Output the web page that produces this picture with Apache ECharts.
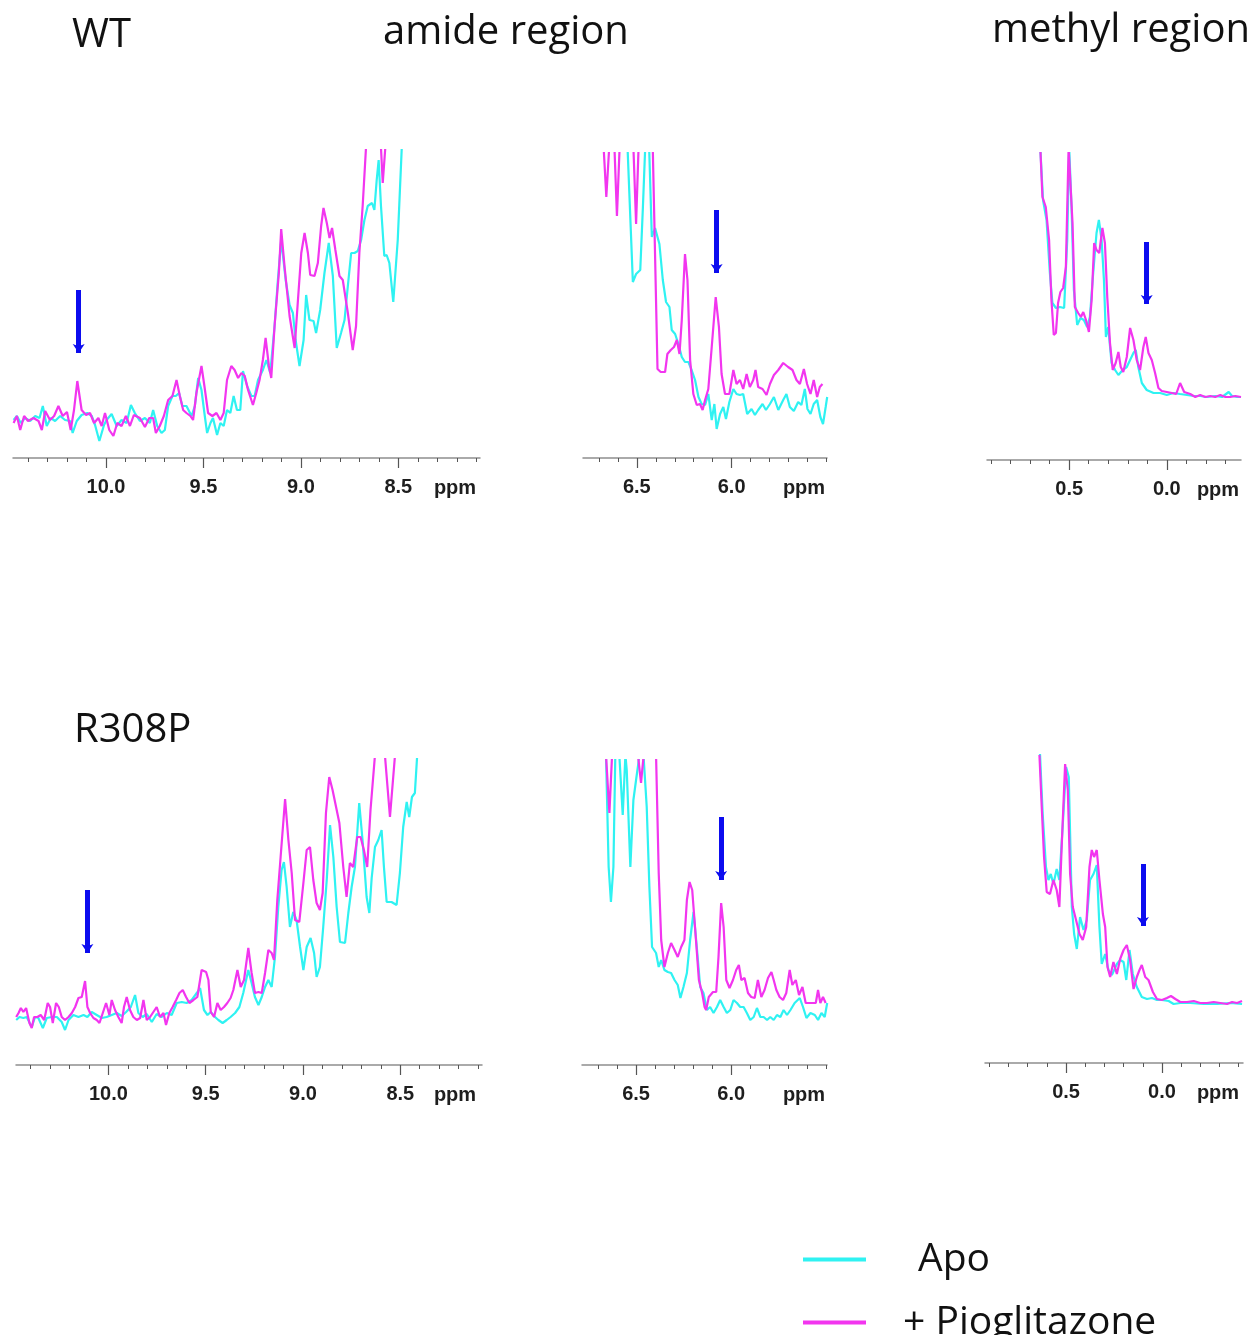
<!DOCTYPE html>
<html><head><meta charset="utf-8">
<script src="https://cdn.jsdelivr.net/npm/echarts@6/dist/echarts.min.js"></script>
<style>html,body{margin:0;padding:0;background:#fff}#c{width:1254px;height:1335px}</style>
</head><body><div id="c"></div>
<script>
// ---------------- DATA (ppm, intensity) ----------------
const seriesNames = ['Apo', '+ Pioglitazone'];
const rowTitles = ['WT', 'R308P'];
const columnTitles = ['amide region', 'methyl region'];
const unitLabel = 'ppm';

// WT, amide region 10.5 - 8.1 ppm
const wtAmideLowApo = [[10.474,38],[10.457,42],[10.437,35],[10.415,40],[10.389,37],[10.363,42],[10.341,40],[10.324,52],[10.304,32],[10.283,40],[10.261,37],[10.235,42],[10.21,38],[10.184,37],[10.171,25],[10.15,37],[10.125,43],[10.096,45],[10.073,42],[10.056,33],[10.034,17],[10.01,33],[9.997,38],[9.971,44],[9.945,32],[9.92,38],[9.894,35],[9.872,53],[9.852,45],[9.826,37],[9.80,40],[9.775,35],[9.758,48],[9.737,32],[9.715,25],[9.698,28],[9.681,52],[9.659,62],[9.642,62],[9.625,65],[9.608,52],[9.587,52],[9.561,42],[9.544,52],[9.527,80],[9.51,68],[9.493,42],[9.481,25],[9.464,35],[9.451,40],[9.43,23],[9.413,35],[9.396,32],[9.379,48],[9.362,45],[9.345,62],[9.328,48],[9.311,48],[9.297,87],[9.276,72],[9.254,62],[9.237,62],[9.22,78],[9.195,88],[9.177,98],[9.157,85],[9.135,132],[9.118,178],[9.101,218],[9.078,178],[9.058,153],[9.041,145],[9.027,118],[9.007,92],[8.986,118],[8.973,163],[8.956,138],[8.935,137],[8.922,125],[8.901,148],[8.879,185],[8.857,215],[8.836,182],[8.816,110],[8.794,125],[8.776,138],[8.759,172],[8.742,205],[8.725,205],[8.708,207],[8.691,218],[8.674,238],[8.657,252],[8.635,255],[8.623,248],[8.611,278],[8.601,298],[8.589,252],[8.572,202],[8.56,203],[8.546,195],[8.526,156],[8.503,218],[8.478,330]];
const wtAmideLowPio = [[10.474,35],[10.457,42],[10.44,28],[10.42,42],[10.40,37],[10.372,40],[10.346,37],[10.329,28],[10.312,47],[10.287,38],[10.266,42],[10.244,52],[10.222,42],[10.20,46],[10.181,28],[10.164,48],[10.147,77],[10.125,48],[10.102,43],[10.082,45],[10.061,35],[10.039,40],[10.022,32],[10.005,45],[9.983,28],[9.962,22],[9.942,35],[9.92,32],[9.898,42],[9.877,32],[9.857,43],[9.826,40],[9.80,31],[9.778,40],[9.758,40],[9.744,25],[9.724,32],[9.703,42],[9.681,58],[9.659,62],[9.638,78],[9.621,62],[9.604,48],[9.587,45],[9.567,42],[9.553,38],[9.536,65],[9.51,92],[9.495,72],[9.476,45],[9.454,42],[9.433,45],[9.413,38],[9.396,45],[9.379,78],[9.357,92],[9.34,88],[9.322,80],[9.305,85],[9.288,82],[9.271,68],[9.246,53],[9.229,65],[9.212,78],[9.195,98],[9.181,120],[9.164,92],[9.152,80],[9.135,132],[9.113,185],[9.101,229],[9.084,192],[9.058,142],[9.032,110],[9.015,158],[8.998,205],[8.981,225],[8.964,205],[8.952,183],[8.93,182],[8.913,195],[8.896,232],[8.884,250],[8.867,235],[8.853,220],[8.84,230],[8.823,208],[8.802,182],[8.785,178],[8.759,145],[8.734,108],[8.717,132],[8.70,205],[8.683,252],[8.666,310],[8.65,340],[8.60,340],[8.589,310],[8.580,275],[8.567,310],[8.55,340]];
const wtAmideLowArrow = [10.14, 168, 101];

// WT, amide region 6.8 - 5.5 ppm
const wtAmideHighApo = [[6.549,310],[6.521,176],[6.504,184],[6.482,188],[6.468,251],[6.456,310],[6.435,310],[6.421,221],[6.404,230],[6.381,214],[6.363,178],[6.346,156],[6.328,151],[6.316,128],[6.298,124],[6.281,114],[6.263,101],[6.246,96],[6.228,96],[6.211,88],[6.193,78],[6.175,61],[6.158,54],[6.14,53],[6.123,64],[6.105,38],[6.091,54],[6.079,29],[6.061,44],[6.044,51],[6.03,39],[6.012,56],[5.991,69],[5.974,64],[5.956,63],[5.939,64],[5.918,44],[5.895,49],[5.877,43],[5.86,48],[5.837,54],[5.819,48],[5.798,54],[5.777,61],[5.754,48],[5.728,58],[5.711,64],[5.693,51],[5.672,47],[5.649,56],[5.632,53],[5.614,69],[5.60,49],[5.584,44],[5.567,54],[5.549,58],[5.532,41],[5.518,34],[5.504,51],[5.496,61]];
const wtAmideHighPio = [[6.675,310],[6.661,261],[6.646,310],[6.618,310],[6.605,242],[6.591,310],[6.518,310],[6.504,234],[6.491,310],[6.416,310],[6.391,89],[6.374,86],[6.351,86],[6.339,104],[6.321,108],[6.304,111],[6.289,118],[6.275,104],[6.263,138],[6.246,204],[6.233,178],[6.219,98],[6.202,64],[6.184,53],[6.167,54],[6.153,48],[6.14,58],[6.123,69],[6.105,111],[6.084,161],[6.067,131],[6.053,84],[6.035,64],[6.012,64],[5.991,88],[5.974,74],[5.956,78],[5.939,69],[5.921,84],[5.904,71],[5.886,78],[5.874,88],[5.86,71],[5.837,69],[5.816,63],[5.798,74],[5.777,83],[5.754,88],[5.728,95],[5.702,91],[5.679,88],[5.658,78],[5.64,74],[5.619,89],[5.602,74],[5.584,64],[5.567,78],[5.549,61],[5.535,71],[5.521,74]];
const wtAmideHighArrow = [6.079, 248, 181];

// WT, methyl region 0.9 - -0.4 ppm
const wtMethylApo = [[0.647,308],[0.634,260],[0.616,240],[0.599,187],[0.586,157],[0.568,152],[0.548,153],[0.526,152],[0.51,220],[0.50,312],[0.488,253],[0.476,170],[0.459,135],[0.442,142],[0.425,140],[0.408,133],[0.394,143],[0.377,187],[0.36,227],[0.348,240],[0.334,220],[0.322,180],[0.312,123],[0.30,133],[0.283,97],[0.265,90],[0.248,85],[0.226,90],[0.205,93],[0.188,100],[0.171,107],[0.159,110],[0.146,93],[0.128,77],[0.103,70],[0.068,67],[0.034,67],[0.0,65],[-0.034,67],[-0.068,66],[-0.103,65],[-0.137,64],[-0.171,64],[-0.205,63],[-0.248,64],[-0.283,63],[-0.317,68],[-0.334,64],[-0.36,63],[-0.38,63]];
const wtMethylPio = [[0.647,308],[0.637,263],[0.62,253],[0.603,220],[0.591,160],[0.579,125],[0.568,127],[0.557,157],[0.545,168],[0.531,172],[0.517,193],[0.503,312],[0.497,312],[0.483,237],[0.471,153],[0.454,147],[0.44,143],[0.428,148],[0.414,140],[0.399,128],[0.385,160],[0.372,217],[0.36,210],[0.346,207],[0.33,232],[0.317,217],[0.305,163],[0.291,117],[0.277,90],[0.262,97],[0.248,108],[0.236,93],[0.223,88],[0.205,103],[0.188,132],[0.171,120],[0.154,100],[0.137,90],[0.12,113],[0.108,123],[0.094,107],[0.077,100],[0.06,87],[0.043,72],[0.026,69],[0.0,68],[-0.026,67],[-0.048,66],[-0.068,77],[-0.089,68],[-0.12,66],[-0.146,63],[-0.171,65],[-0.197,63],[-0.223,64],[-0.248,63],[-0.274,65],[-0.30,63],[-0.325,63],[-0.351,64],[-0.38,63]];
const wtMethylArrow = [0.103, 218, 152];

// R308P, amide region 10.5 - 8.1 ppm
const mutAmideLowApo = [[10.474,45],[10.457,48],[10.437,47],[10.42,48],[10.394,38],[10.377,48],[10.36,47],[10.337,37],[10.317,47],[10.291,48],[10.265,48],[10.24,43],[10.223,35],[10.205,45],[10.18,50],[10.154,48],[10.128,50],[10.108,48],[10.086,53],[10.06,50],[10.034,47],[10.009,48],[9.983,50],[9.957,52],[9.932,49],[9.909,53],[9.885,58],[9.863,70],[9.846,52],[9.824,48],[9.803,51],[9.777,43],[9.752,51],[9.726,48],[9.70,52],[9.675,50],[9.649,62],[9.623,63],[9.598,62],[9.572,65],[9.546,72],[9.529,77],[9.509,55],[9.491,50],[9.474,53],[9.452,48],[9.435,45],[9.413,42],[9.392,45],[9.372,48],[9.349,52],[9.327,58],[9.307,72],[9.281,95],[9.264,82],[9.247,68],[9.229,60],[9.212,68],[9.195,78],[9.178,85],[9.161,78],[9.144,108],[9.127,158],[9.11,195],[9.098,203],[9.084,178],[9.067,138],[9.05,153],[9.033,145],[9.015,118],[8.998,95],[8.981,118],[8.961,127],[8.943,112],[8.93,88],[8.913,98],[8.896,138],[8.878,185],[8.861,240],[8.844,208],[8.827,158],[8.81,123],[8.784,122],[8.767,152],[8.75,178],[8.733,198],[8.711,262],[8.694,225],[8.673,168],[8.659,152],[8.647,187],[8.63,218],[8.613,225],[8.596,235],[8.584,198],[8.57,163],[8.545,163],[8.519,160],[8.502,192],[8.485,238],[8.467,263],[8.454,248],[8.44,268],[8.425,272],[8.413,310]];
const mutAmideLowPio = [[10.474,48],[10.462,52],[10.45,57],[10.437,53],[10.423,57],[10.406,42],[10.394,37],[10.382,48],[10.365,48],[10.348,50],[10.33,45],[10.312,62],[10.30,58],[10.286,42],[10.269,62],[10.255,58],[10.24,48],[10.223,45],[10.205,48],[10.188,52],[10.171,58],[10.154,67],[10.137,68],[10.12,84],[10.108,58],[10.094,52],[10.077,47],[10.06,45],[10.046,42],[10.029,52],[10.012,62],[9.995,50],[9.983,65],[9.966,55],[9.949,48],[9.932,42],[9.92,58],[9.906,68],[9.889,55],[9.872,48],[9.854,45],[9.837,47],[9.82,65],[9.803,45],[9.786,48],[9.769,53],[9.752,58],[9.735,48],[9.717,52],[9.704,40],[9.687,52],[9.67,58],[9.652,65],[9.635,72],[9.618,75],[9.601,68],[9.584,62],[9.563,65],[9.543,68],[9.521,95],[9.498,93],[9.486,85],[9.474,53],[9.457,48],[9.44,62],[9.423,55],[9.406,58],[9.389,62],[9.372,67],[9.358,75],[9.337,95],[9.32,78],[9.303,85],[9.281,117],[9.264,92],[9.247,72],[9.229,73],[9.212,72],[9.195,92],[9.178,115],[9.161,112],[9.149,105],[9.132,165],[9.115,208],[9.092,266],[9.075,225],[9.058,192],[9.041,145],[9.019,143],[8.998,182],[8.981,215],[8.964,218],[8.947,185],[8.93,162],[8.913,155],[8.899,172],[8.882,252],[8.865,288],[8.848,275],[8.83,258],[8.813,242],[8.793,198],[8.776,168],[8.759,202],[8.742,198],[8.721,228],[8.704,228],[8.687,215],[8.67,198],[8.653,255],[8.63,310],[8.61,340],[8.59,340],[8.579,310],[8.553,248],[8.527,310],[8.51,340]];
const mutAmideLowArrow = [10.108, 175, 108];

// R308P, amide region 6.8 - 5.5 ppm
const mutAmideHighApo = [[6.658,310],[6.644,198],[6.632,163],[6.619,198],[6.609,310],[6.588,310],[6.57,250],[6.556,310],[6.549,295],[6.53,198],[6.514,265],[6.50,285],[6.482,310],[6.461,310],[6.444,258],[6.43,178],[6.416,118],[6.395,112],[6.381,98],[6.368,105],[6.351,95],[6.333,93],[6.316,92],[6.298,85],[6.281,80],[6.267,67],[6.251,78],[6.233,92],[6.216,125],[6.198,153],[6.181,118],[6.163,78],[6.146,72],[6.128,55],[6.111,58],[6.093,52],[6.075,58],[6.058,65],[6.04,58],[6.023,52],[6.005,55],[5.988,65],[5.97,62],[5.953,58],[5.935,58],[5.918,52],[5.90,45],[5.882,48],[5.865,57],[5.847,48],[5.83,48],[5.812,45],[5.795,48],[5.777,45],[5.76,50],[5.742,48],[5.725,55],[5.707,50],[5.689,55],[5.667,62],[5.64,67],[5.623,58],[5.605,47],[5.584,52],[5.561,50],[5.544,45],[5.526,52],[5.509,48],[5.496,62]];
const mutAmideHighPio = [[6.658,310],[6.64,252],[6.626,310],[6.49,310],[6.474,282],[6.46,310],[6.395,310],[6.381,192],[6.368,125],[6.351,98],[6.333,112],[6.316,122],[6.298,115],[6.281,108],[6.263,118],[6.246,125],[6.233,165],[6.219,183],[6.205,175],[6.188,132],[6.17,85],[6.153,72],[6.14,58],[6.132,55],[6.118,68],[6.096,73],[6.079,73],[6.067,108],[6.053,162],[6.04,138],[6.026,85],[6.009,77],[5.991,85],[5.974,95],[5.96,100],[5.947,85],[5.93,87],[5.912,72],[5.895,68],[5.877,67],[5.86,85],[5.842,68],[5.825,75],[5.807,87],[5.789,93],[5.777,85],[5.763,75],[5.746,68],[5.728,65],[5.711,72],[5.693,95],[5.679,80],[5.661,85],[5.644,70],[5.626,78],[5.609,62],[5.591,62],[5.574,62],[5.556,62],[5.544,75],[5.532,62],[5.518,68],[5.504,62]];
const mutAmideHighArrow = [6.053, 248, 181];

// R308P, methyl region 0.9 - -0.4 ppm
const mutMethylApo = [[0.636,309],[0.622,249],[0.605,196],[0.592,183],[0.58,189],[0.566,179],[0.549,194],[0.535,183],[0.517,239],[0.50,296],[0.486,286],[0.47,156],[0.458,129],[0.444,114],[0.427,146],[0.409,133],[0.392,143],[0.375,183],[0.357,189],[0.34,198],[0.326,136],[0.314,99],[0.296,109],[0.279,93],[0.261,88],[0.235,99],[0.218,103],[0.20,101],[0.186,83],[0.169,113],[0.152,89],[0.131,76],[0.105,66],[0.078,64],[0.052,65],[0.026,63],[0.0,63],[-0.035,62],[-0.061,59],[-0.096,60],[-0.148,60],[-0.218,59],[-0.287,59],[-0.357,60],[-0.418,59]];
const mutMethylPio = [[0.639,308],[0.627,256],[0.615,206],[0.601,171],[0.584,169],[0.566,183],[0.549,173],[0.535,156],[0.523,216],[0.505,299],[0.491,273],[0.479,189],[0.465,156],[0.448,143],[0.43,129],[0.413,123],[0.395,136],[0.378,196],[0.366,213],[0.354,206],[0.34,213],[0.326,183],[0.308,149],[0.296,136],[0.284,96],[0.27,86],[0.253,101],[0.235,89],[0.218,104],[0.20,113],[0.183,118],[0.166,103],[0.148,74],[0.131,86],[0.117,93],[0.105,98],[0.087,86],[0.07,83],[0.047,71],[0.026,64],[0.0,63],[-0.026,65],[-0.047,67],[-0.07,64],[-0.096,61],[-0.131,61],[-0.166,62],[-0.20,60],[-0.235,60],[-0.27,61],[-0.305,60],[-0.34,59],[-0.366,61],[-0.392,60],[-0.418,62]];
const mutMethylArrow = [0.099, 199, 133];

const majorTicksAmideLow = [8.5, 9.0, 9.5, 10.0];
const majorTicksAmideHigh = [6.0, 6.5];
const majorTicksMethyl = [0.0, 0.5];

// ---------------- LAYOUT / STYLE ----------------
const CYAN = '#2ff2f2', MAGENTA = '#f235ef', BLUE = '#0c0cef';
const panels = [
  {apo: wtAmideLowApo, pio: wtAmideLowPio, arrow: wtAmideLowArrow, major: majorTicksAmideLow,
   left: 13, right: 480, top: 150, axisY: 458, min: 8.081, max: 10.477, ppmX: 455},
  {apo: wtAmideHighApo, pio: wtAmideHighPio, arrow: wtAmideHighArrow, major: majorTicksAmideHigh,
   left: 583, right: 827, top: 153, axisY: 458, min: 5.497, max: 6.784, ppmX: 804},
  {apo: wtMethylApo, pio: wtMethylPio, arrow: wtMethylArrow, major: majorTicksMethyl,
   left: 987, right: 1241, top: 153, axisY: 460, min: -0.380, max: 0.921, ppmX: 1218},
  {apo: mutAmideLowApo, pio: mutAmideLowPio, arrow: mutAmideLowArrow, major: majorTicksAmideLow,
   left: 16, right: 482, top: 759, axisY: 1065, min: 8.080, max: 10.475, ppmX: 455},
  {apo: mutAmideHighApo, pio: mutAmideHighPio, arrow: mutAmideHighArrow, major: majorTicksAmideHigh,
   left: 582, right: 827, top: 760, axisY: 1065, min: 5.497, max: 6.784, ppmX: 804},
  {apo: mutMethylApo, pio: mutMethylPio, arrow: mutMethylArrow, major: majorTicksMethyl,
   left: 985, right: 1243, top: 753, axisY: 1063, min: -0.423, max: 0.923, ppmX: 1218}
];

function tenths(a, b) {
  const out = [];
  for (let k = Math.ceil(a * 10 - 1e-6); k <= Math.floor(b * 10 + 1e-6); k++) out.push(k / 10);
  return out;
}

const grid = [], xAxis = [], yAxis = [], series = [], graphic = [];
panels.forEach((p, i) => {
  grid.push({left: p.left, top: p.top, width: p.right - p.left, height: p.axisY - p.top, containLabel: false, outerBoundsMode: 'none'});
  xAxis.push({
    gridIndex: i, type: 'value', inverse: true, min: p.min, max: p.max, position: 'bottom',
    axisLine: {show: true, onZero: false, lineStyle: {color: '#8e8e8e', width: 1.5}},
    axisTick: {show: true, customValues: tenths(p.min, p.max), length: 4, lineStyle: {color: '#555', width: 1}},
    axisLabel: {show: true, customValues: p.major, formatter: v => v.toFixed(1), margin: 19,
      fontSize: 20, fontWeight: 'bold', fontFamily: 'Liberation Sans', color: '#1e1e1e'},
    splitLine: {show: false}
  });
  xAxis.push({
    gridIndex: i, type: 'value', inverse: true, min: p.min, max: p.max, position: 'bottom',
    axisLine: {show: false},
    axisTick: {show: true, customValues: p.major, length: 10, lineStyle: {color: '#555', width: 1.2}},
    axisLabel: {show: false}, splitLine: {show: false}
  });
  yAxis.push({gridIndex: i, type: 'value', min: 0, max: p.axisY - p.top, show: false});
  series.push({
    type: 'line', name: seriesNames[0], xAxisIndex: 2 * i, yAxisIndex: i, data: p.apo,
    showSymbol: false, symbol: 'none', clip: true, silent: true, z: 2,
    lineStyle: {color: CYAN, width: 2.2}, itemStyle: {color: CYAN}
  });
  series.push({
    type: 'line', name: seriesNames[1], xAxisIndex: 2 * i, yAxisIndex: i, data: p.pio,
    showSymbol: false, symbol: 'none', clip: true, silent: true, z: 3,
    lineStyle: {color: MAGENTA, width: 2.2}, itemStyle: {color: MAGENTA}
  });
  series.push({
    type: 'lines', coordinateSystem: 'cartesian2d', xAxisIndex: 2 * i, yAxisIndex: i,
    symbol: ['none', 'arrow'], symbolSize: [12, 9], silent: true, z: 5,
    lineStyle: {color: BLUE, width: 5, opacity: 1, curveness: 0},
    data: [{coords: [[p.arrow[0], p.arrow[1]], [p.arrow[0], p.arrow[2] + 4]]}]
  });
  graphic.push({type: 'text', x: p.ppmX, y: p.axisY + 30, silent: true,
    style: {text: unitLabel, font: 'bold 20px "Liberation Sans"', fill: '#1e1e1e', textAlign: 'center', textVerticalAlign: 'middle'}});
});

const titleFont = '40px "Open Sans"';
graphic.push({type: 'text', x: 72, y: 36, silent: true, style: {text: rowTitles[0], font: titleFont, fill: '#111', textAlign: 'left', textVerticalAlign: 'middle'}});
graphic.push({type: 'text', x: 74, y: 731, silent: true, style: {text: rowTitles[1], font: titleFont, fill: '#111', textAlign: 'left', textVerticalAlign: 'middle'}});
graphic.push({type: 'text', x: 383, y: 33, silent: true, style: {text: columnTitles[0], font: titleFont, fill: '#111', textAlign: 'left', textVerticalAlign: 'middle'}});
graphic.push({type: 'text', x: 992, y: 31, silent: true, style: {text: columnTitles[1], font: titleFont, fill: '#111', textAlign: 'left', textVerticalAlign: 'middle'}});

const legendText = {fontFamily: 'Open Sans', fontSize: 39, color: '#111'};
const option = {
  animation: false,
  backgroundColor: '#ffffff',
  grid, xAxis, yAxis, series, graphic,
  legend: [
    {data: [seriesNames[0]], left: 798, top: 1235, icon: 'rect', itemWidth: 63, itemHeight: 4, selectedMode: false,
     textStyle: Object.assign({padding: [0, 0, 0, 47]}, legendText)},
    {data: [seriesNames[1]], left: 798, top: 1298, icon: 'rect', itemWidth: 63, itemHeight: 4, selectedMode: false,
     textStyle: Object.assign({padding: [0, 0, 0, 32]}, legendText)}
  ]
};
const chart = echarts.init(document.getElementById('c'), null, {renderer: 'canvas'});
chart.setOption(option);
</script>
</body></html>
